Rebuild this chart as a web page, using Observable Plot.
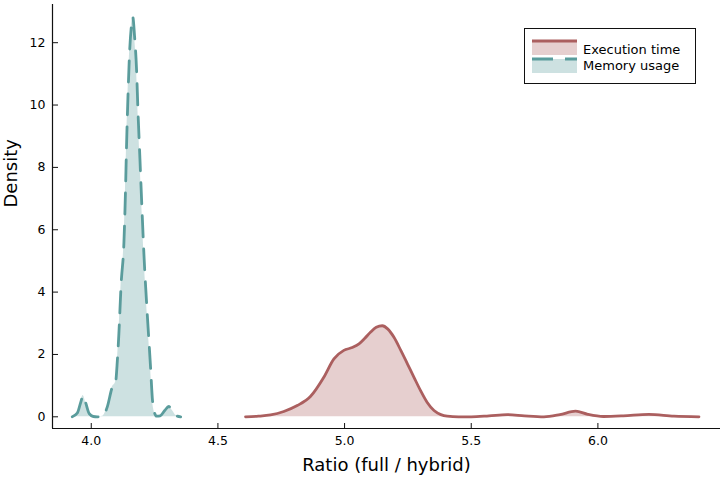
<!DOCTYPE html>
<html>
<head>
<meta charset="utf-8">
<script src="https://cdn.jsdelivr.net/npm/d3@7"></script>
<script src="https://cdn.jsdelivr.net/npm/@observablehq/plot@0.6"></script>
<style>
  html, body { margin: 0; padding: 0; background: #fff; }
  #wrap { position: relative; width: 721px; height: 477px; font-family: "DejaVu Sans", sans-serif; }
  #legend { position: absolute; left: 524px; top: 28px; width: 172px; height: 56px; box-sizing: border-box; border: 1px solid #111; background: #fff; }
  #legend svg { display: block; }
</style>
</head>
<body>
<div id="wrap"></div>
<script>
// ---- data ----
const seriesNames = ["Execution time", "Memory usage"];
const execX = [4.609, 4.66, 4.708, 4.76, 4.813, 4.866, 4.918, 4.958, 4.997, 5.03, 5.057, 5.08, 5.103, 5.125, 5.149, 5.17, 5.195, 5.222, 5.248, 5.275, 5.300, 5.327, 5.353, 5.38, 5.405, 5.45, 5.5, 5.57, 5.642, 5.71, 5.787, 5.85, 5.912, 5.96, 6.022, 6.1, 6.201, 6.3, 6.399];
const execY = [0, 0.02, 0.06, 0.17, 0.36, 0.66, 1.27, 1.86, 2.13, 2.22, 2.34, 2.52, 2.72, 2.87, 2.92, 2.82, 2.55, 2.13, 1.70, 1.25, 0.84, 0.45, 0.20, 0.07, 0.02, 0.0, 0.0, 0.03, 0.07, 0.03, 0.0, 0.07, 0.18, 0.08, 0.01, 0.03, 0.08, 0.02, 0];
const memX = [3.925, 3.945, 3.958, 3.968, 3.978, 3.992, 4.008, 4.024, 4.045, 4.063, 4.083, 4.096, 4.103, 4.109, 4.118, 4.129, 4.135, 4.139, 4.145, 4.152, 4.158, 4.164, 4.171, 4.179, 4.184, 4.192, 4.200, 4.208, 4.221, 4.234, 4.241, 4.249, 4.258, 4.272, 4.29, 4.306, 4.32, 4.335, 4.353];
const memY = [0, 0.12, 0.45, 0.68, 0.45, 0.1, 0.01, 0, 0.02, 0.31, 0.95, 1.11, 1.8, 2.66, 4.27, 5.6, 7.2, 8.6, 10.3, 11.8, 12.5, 12.82, 12.2, 11.1, 9.9, 8.3, 6.7, 5.2, 3.3, 1.6, 0.6, 0.15, 0.02, 0.03, 0.2, 0.33, 0.2, 0.04, 0];
const xTicks = [4.0, 4.5, 5.0, 5.5, 6.0];
const yTicks = [0, 2, 4, 6, 8, 10, 12];
const xDomain = [3.847, 6.484];
const yDomain = [-0.375, 13.225];
const xLabel = "Ratio (full / hybrid)";
const yLabel = "Density";

// ---- styles ----
const execColor = "#ab5f5f";
const memColor = "#5a9c9c";
const fillAlpha = 0.3;
const lineW = 2.8;
const dash = "21,12";

const W = 721, H = 477, mL = 52, mR = 1, mT = 4, mB = 49;
const innerW = W - mL - mR, innerH = H - mT - mB;

const exec = execX.map((x, i) => ({x, y: execY[i]}));
const mem = memX.map((x, i) => ({x, y: memY[i]}));
const curve = "monotone-x";

const chart = Plot.plot({
  width: W, height: H,
  marginLeft: mL, marginRight: mR, marginTop: mT, marginBottom: mB,
  style: {fontFamily: "DejaVu Sans, sans-serif", fontSize: "12.5px", color: "#000", background: "#fff", overflow: "visible"},
  x: {domain: xDomain},
  y: {domain: yDomain},
  marks: [
    Plot.areaY(exec, {x: "x", y: "y", fill: execColor, fillOpacity: fillAlpha, curve}),
    Plot.lineY(exec, {x: "x", y: "y", stroke: execColor, strokeWidth: lineW, curve}),
    Plot.areaY(mem, {x: "x", y: "y", fill: memColor, fillOpacity: fillAlpha, curve}),
    Plot.lineY(mem, {x: "x", y: "y", stroke: memColor, strokeWidth: lineW, strokeDasharray: dash, curve}),
    Plot.ruleX([xDomain[0]], {stroke: "#111", strokeWidth: 1.2}),
    Plot.ruleY([yDomain[0]], {stroke: "#111", strokeWidth: 1.2}),
    Plot.tickX(xTicks, {x: d => d, stroke: "#111", insetTop: innerH - 5}),
    Plot.tickY(yTicks, {y: d => d, stroke: "#111", insetRight: innerW - 6}),
    Plot.axisX(xTicks, {tickSize: 0, tickPadding: 8, tickFormat: d => d.toFixed(1), label: null, fontSize: 12.5}),
    Plot.axisY(yTicks, {tickSize: 0, tickPadding: 7, label: null, fontSize: 12.5}),
    Plot.text([xLabel], {text: d => d, frameAnchor: "bottom", lineAnchor: "bottom", dy: 42, fontSize: 18}),
    Plot.text([yLabel], {text: d => d, frameAnchor: "left", rotate: -90, dx: -41, dy: -9, fontSize: 18})
  ]
});

const wrap = document.getElementById("wrap");
wrap.appendChild(chart);

// legend (overlay inside plot area, top-right)
const legend = document.createElement("div");
legend.id = "legend";
const ns = "http://www.w3.org/2000/svg";
const lsvg = document.createElementNS(ns, "svg");
lsvg.setAttribute("width", 170);
lsvg.setAttribute("height", 54);
const entries = [
  {name: seriesNames[0], color: execColor, dash: null, top: 12, textY: 25},
  {name: seriesNames[1], color: memColor, dash: dash, top: 30, textY: 41}
];
for (const e of entries) {
  const r = document.createElementNS(ns, "rect");
  r.setAttribute("x", 7); r.setAttribute("y", e.top);
  r.setAttribute("width", 45); r.setAttribute("height", 14);
  r.setAttribute("fill", e.color); r.setAttribute("fill-opacity", fillAlpha);
  lsvg.appendChild(r);
  const l = document.createElementNS(ns, "line");
  l.setAttribute("x1", 7); l.setAttribute("x2", 52);
  l.setAttribute("y1", e.top); l.setAttribute("y2", e.top);
  l.setAttribute("stroke", e.color); l.setAttribute("stroke-width", lineW);
  if (e.dash) l.setAttribute("stroke-dasharray", e.dash);
  lsvg.appendChild(l);
  const t = document.createElementNS(ns, "text");
  t.setAttribute("x", 58); t.setAttribute("y", e.textY);
  t.setAttribute("font-size", 13);
  t.setAttribute("font-family", "DejaVu Sans, sans-serif");
  t.setAttribute("fill", "#000");
  t.textContent = e.name;
  lsvg.appendChild(t);
}
legend.appendChild(lsvg);
wrap.appendChild(legend);
</script>
</body>
</html>
